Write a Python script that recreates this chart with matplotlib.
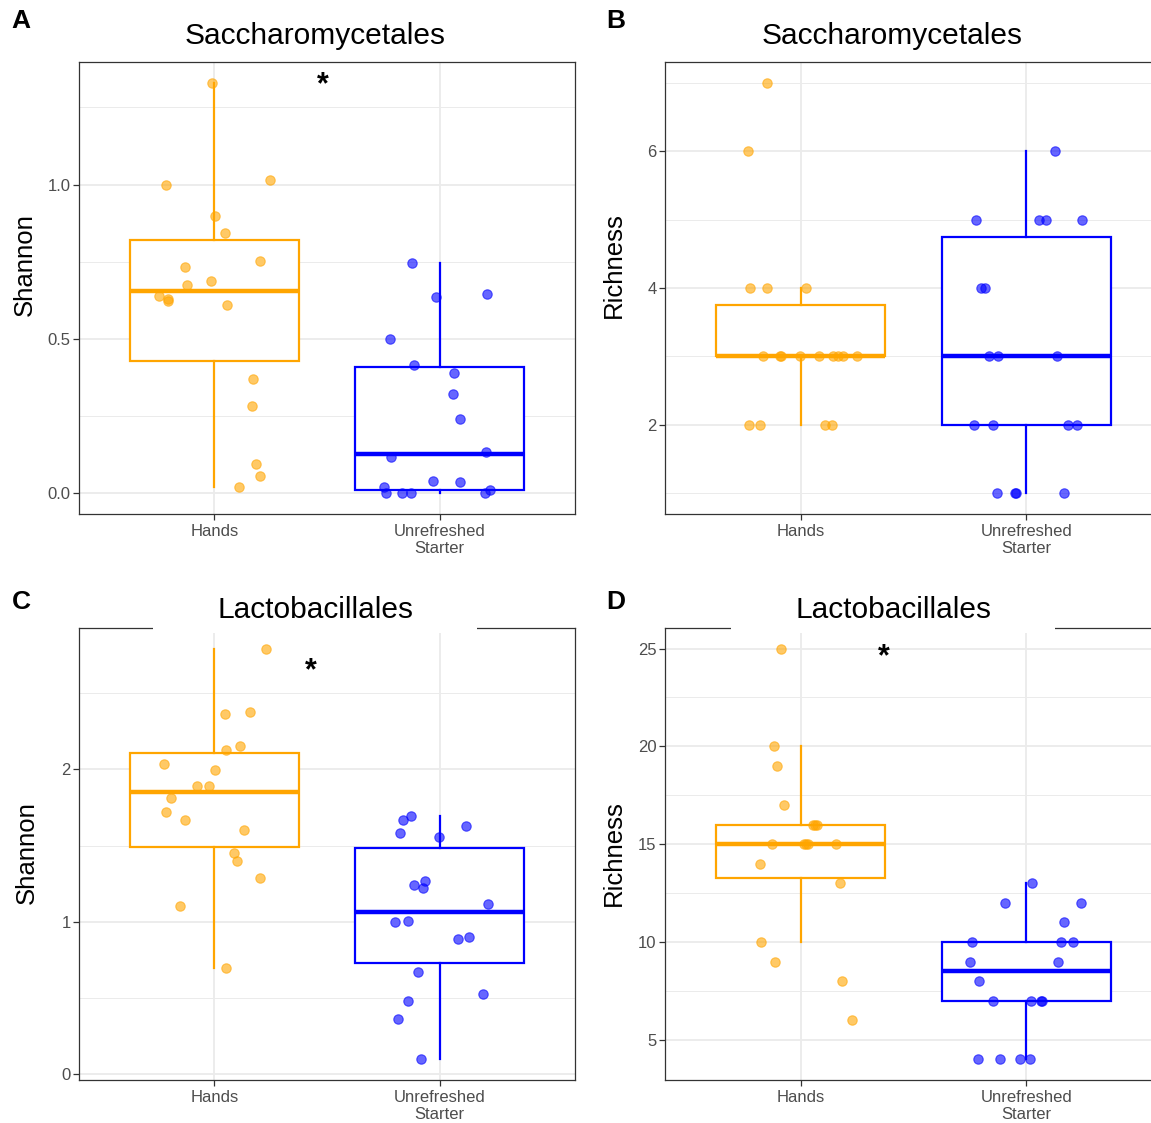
import matplotlib
matplotlib.use("Agg")
import matplotlib.pyplot as plt
from matplotlib.patches import Rectangle
import numpy as np

plt.rcParams['font.family'] = ['Liberation Sans', 'DejaVu Sans']

# ---------------- data ----------------
categories = ["Hands", "Unrefreshed\nStarter"]

# Panel A: Saccharomycetales, Shannon
hands_A = [1.330, 1.000, 1.015, 0.897, 0.842, 0.751, 0.732, 0.687, 0.674, 0.638,
           0.630, 0.624, 0.610, 0.370, 0.283, 0.094, 0.057, 0.0215]
hands_A_dx = [-0.010, -0.216, 0.248, 0.003, 0.047, 0.204, -0.129, -0.016, -0.119, -0.247,
              -0.206, -0.206, 0.057, 0.172, 0.167, 0.183, 0.203, 0.109]
us_A = [0.745, 0.637, 0.644, 0.499, 0.417, 0.390, 0.321, 0.240, 0.135, 0.119,
        0.040, 0.038, 0.020, 0.0, 0.0, 0.0, 0.0, 0.010]
us_A_dx = [-0.124, -0.018, 0.211, -0.222, -0.114, 0.062, 0.057, 0.092, 0.204, -0.214,
           -0.029, 0.092, -0.247, -0.240, -0.168, -0.126, 0.201, 0.225]

# Panel B: Saccharomycetales, Richness
hands_B = [7, 6, 4, 4, 4, 3, 3, 3, 3, 3, 3, 3, 3, 3, 2, 2, 2, 2]
hands_B_dx = [-0.149, -0.231, -0.223, -0.150, 0.025, -0.164, -0.093, -0.088, -0.004,
              0.080, 0.142, 0.164, 0.190, 0.248, -0.228, -0.179, 0.109, 0.138]
us_B = [6, 5, 5, 5, 5, 4, 4, 3, 3, 3, 2, 2, 2, 2, 1, 1, 1, 1]
us_B_dx = [0.128, -0.225, 0.057, 0.085, 0.244, -0.200, -0.185, -0.165, -0.128, 0.133,
           -0.234, -0.146, 0.185, 0.222, -0.130, -0.050, -0.046, 0.165]

# Panel C: Lactobacillales, Shannon
hands_C = [2.795, 2.367, 2.378, 2.131, 2.157, 2.039, 1.996, 1.893, 1.889, 1.814,
           1.718, 1.666, 1.605, 1.452, 1.400, 1.286, 1.105, 0.692]
hands_C_dx = [0.229, 0.049, 0.160, 0.051, 0.116, -0.224, 0.002, -0.077, -0.023, -0.190,
              -0.216, -0.132, 0.131, 0.087, 0.101, 0.201, -0.154, 0.054]
us_C = [1.692, 1.670, 1.629, 1.581, 1.559, 1.266, 1.240, 1.223, 1.116, 1.000,
        1.007, 0.902, 0.884, 0.672, 0.522, 0.478, 0.362, 0.094]
us_C_dx = [-0.129, -0.163, 0.118, -0.176, -0.003, -0.067, -0.116, -0.074, 0.216, -0.198,
           -0.141, 0.131, 0.083, -0.096, 0.193, -0.142, -0.186, -0.082]

# Panel D: Lactobacillales, Richness
hands_D = [25, 20, 19, 17, 16, 16, 16, 15, 15, 15, 15, 15, 14, 13, 10, 9, 8, 6]
hands_D_dx = [-0.085, -0.116, -0.106, -0.074, 0.055, 0.065, 0.075, -0.128, 0.014, 0.024,
              0.033, 0.155, -0.180, 0.174, -0.176, -0.111, 0.182, 0.228]
us_D = [13, 12, 12, 11, 10, 10, 10, 9, 9, 8, 7, 7, 7, 7, 4, 4, 4, 4]
us_D_dx = [0.024, -0.097, 0.242, 0.165, -0.242, 0.153, 0.206, -0.248, 0.141, -0.212,
           -0.146, 0.021, 0.065, 0.070, -0.215, -0.116, -0.027, 0.017]

titles = ["Saccharomycetales", "Saccharomycetales", "Lactobacillales", "Lactobacillales"]
ylabels = ["Shannon", "Richness", "Shannon", "Richness"]
letters = ["A", "B", "C", "D"]

yticks_A = [0.0, 0.5, 1.0];  yticklabels_A = ["0.0", "0.5", "1.0"]
yticks_B = [2, 4, 6];        yticklabels_B = ["2", "4", "6"]
yticks_C = [0, 1, 2];        yticklabels_C = ["0", "1", "2"]
yticks_D = [5, 10, 15, 20, 25]; yticklabels_D = ["5", "10", "15", "20", "25"]
yminor_A = [0.25, 0.75, 1.25]
yminor_B = [1, 3, 5, 7]
yminor_C = [0.5, 1.5, 2.5]
yminor_D = [7.5, 12.5, 17.5, 22.5]

# significance markers (x between groups, y value)
star_A = (1.48, 1.32)
star_C = (1.43, 2.645)
star_D = (1.37, 24.55)

# ---------------- style ----------------
W, H = 1151, 1123
ORANGE = "#FFA500"
BLUE = "#0000FF"
GRID = "#EBEBEB"
FRAME = "#333333"
TICKTXT = "#4D4D4D"

fig = plt.figure(figsize=(W / 100, H / 100), dpi=100)


def add_axes_px(left, top, right, bottom):
    return fig.add_axes([left / W, 1 - bottom / H, (right - left) / W, (bottom - top) / H])


def panel(ax, hands, hands_dx, us, us_dx, ylim, yticks, yticklabels, yminor, star):
    # boxes
    for pos, vals, col in [(1, hands, ORANGE), (2, us, BLUE)]:
        ax.boxplot([vals], positions=[pos], widths=0.75, whis=1.5, showfliers=False,
                   showcaps=False, patch_artist=True, manage_ticks=False,
                   boxprops=dict(facecolor="white", edgecolor=col, linewidth=1.6),
                   whiskerprops=dict(color=col, linewidth=1.6),
                   medianprops=dict(color=col, linewidth=3.2, solid_capstyle="butt"),
                   zorder=2)
    # points
    for pos, vals, dx, col in [(1, hands, hands_dx, ORANGE), (2, us, us_dx, BLUE)]:
        x = pos + np.asarray(dx)
        ax.scatter(x, vals, s=46, facecolor=col, edgecolor=col, linewidth=0.8,
                   alpha=0.6, zorder=3)
    if star is not None:
        ax.text(star[0], star[1], "*", ha="center", va="center", fontsize=22,
                fontweight="bold", color="black", zorder=4)

    ax.set_xlim(0.4, 2.6)
    ax.set_ylim(*ylim)
    ax.set_axisbelow(True)
    ax.set_yticks(yticks)
    ax.set_yticklabels(yticklabels)
    ax.set_yticks(yminor, minor=True)
    ax.set_xticks([1, 2])
    ax.set_xticklabels(categories, linespacing=1.2)
    ax.grid(True, which="major", color=GRID, linewidth=1.3)
    ax.grid(True, which="minor", axis="y", color=GRID, linewidth=0.7)
    ax.tick_params(which="minor", length=0)
    ax.tick_params(which="major", length=4, width=0.9, color=FRAME, pad=2,
                   labelsize=12, labelcolor=TICKTXT)
    ax.tick_params(axis="x", pad=3)
    for s in ax.spines.values():
        s.set_color(FRAME)
        s.set_linewidth(0.9)


axA = add_axes_px(79, 62, 575, 514)
axB = add_axes_px(665, 62, 1162, 514)
axC = add_axes_px(79, 628, 575, 1080)
axD = add_axes_px(665, 628, 1162, 1080)

panel(axA, hands_A, hands_A_dx, us_A, us_A_dx, (-0.0665, 1.3965), yticks_A, yticklabels_A, yminor_A, star_A)
panel(axB, hands_B, hands_B_dx, us_B, us_B_dx, (0.7, 7.3), yticks_B, yticklabels_B, yminor_B, None)
panel(axC, hands_C, hands_C_dx, us_C, us_C_dx, (-0.041, 2.93), yticks_C, yticklabels_C, yminor_C, star_C)
panel(axD, hands_D, hands_D_dx, us_D, us_D_dx, (2.95, 26.05), yticks_D, yticklabels_D, yminor_D, star_D)

# white title backgrounds covering the top frame in the lower panels
for x0, x1 in [(153, 477), (731, 1055)]:
    fig.patches.append(Rectangle((x0 / W, 1 - 633 / H), (x1 - x0) / W, 10 / H,
                                 transform=fig.transFigure, facecolor="white",
                                 edgecolor="none", zorder=5))

# titles
for (cx, cy), t in zip([(315, 36), (892, 36), (315, 610), (893, 610)], titles):
    fig.text(cx / W, 1 - cy / H, t, ha="center", va="center", fontsize=21.5, zorder=6)

# y labels
for (cx, cy), t in zip([(25, 265), (614, 265), (27, 853), (614, 853)], ylabels):
    fig.text(cx / W, 1 - cy / H, t, ha="center", va="center", rotation=90, fontsize=18.5)

# panel letters
for (cx, cy), t in zip([(21, 21), (616, 21), (21, 602), (616, 602)], letters):
    fig.text(cx / W, 1 - cy / H, t, ha="center", va="center", fontsize=19, fontweight="bold")

fig.savefig("out.png", dpi=100, facecolor="white")
